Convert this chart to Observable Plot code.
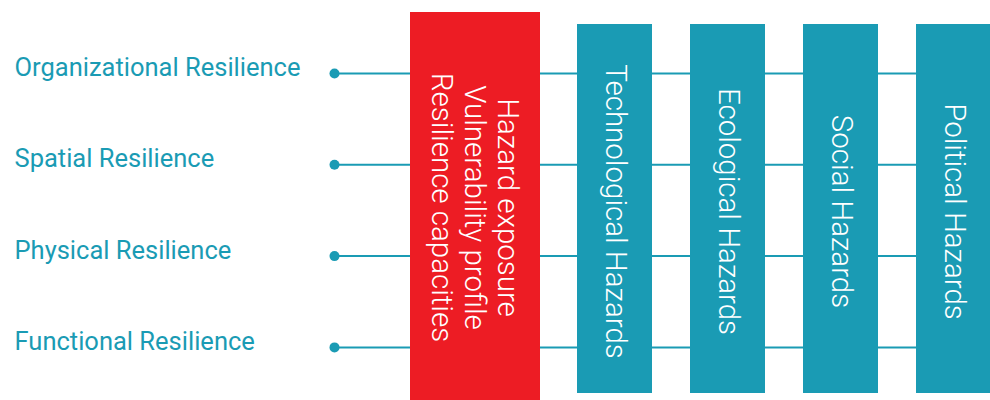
<!DOCTYPE html>
<html>
<head>
<meta charset="utf-8">
<script src="https://cdn.jsdelivr.net/npm/d3@7"></script>
<script src="https://cdn.jsdelivr.net/npm/@observablehq/plot@0.6"></script>
<style>
  html, body { margin: 0; padding: 0; background: #fff; }
  svg { display: block; }
</style>
</head>
<body>
<div id="chart"></div>
<script>
// Data
const resilienceRows = ["Organizational Resilience", "Spatial Resilience", "Physical Resilience", "Functional Resilience"];
const hazardColumns = ["Technological Hazards", "Ecological Hazards", "Social Hazards", "Political Hazards"];
const coreLines = ["Hazard exposure", "Vulnerability profile", "Resilience capacities"];

// Layout (pixel geometry of the diagram)
const W = 990, H = 400;
const rowTop = 73, rowStep = 91.3;
const dotX = 334, labelX = 14;
const core = {x1: 410, x2: 540, y1: 12, y2: 400};
const colStart = 577, colStep = 113, colWidth = 75, colY1 = 24, colY2 = 393;
const teal = "#1a9bb4", red = "#ed1c24";

const rows = resilienceRows.map((name, i) => ({name, y: rowTop + i * rowStep}));
const cols = hazardColumns.map((name, j) => ({name, x1: colStart + j * colStep, x2: Math.min(W, colStart + j * colStep + colWidth), cx: colStart + j * colStep + colWidth / 2}));
const coreData = [{text: coreLines.join("\n"), ...core}];

const chart = Plot.plot({
  width: W, height: H,
  margin: 0,
  x: {type: "linear", domain: [0, W], range: [0, W], axis: null},
  y: {type: "linear", domain: [0, H], range: [0, H], axis: null},
  style: {fontFamily: "Roboto, sans-serif"},
  marks: [
    Plot.ruleY(rows, {y: "y", x1: dotX, x2: W, stroke: teal, strokeWidth: 2}),
    Plot.dot(rows, {x: dotX, y: "y", r: 5, fill: teal, stroke: "none"}),
    Plot.text(rows, {x: labelX, y: "y", text: "name", textAnchor: "start", fill: teal, fontSize: 25.5, dy: -5.5}),
    Plot.rect(coreData, {x1: "x1", x2: "x2", y1: "y1", y2: "y2", fill: red}),
    Plot.text(coreData, {x: d => (d.x1 + d.x2) / 2, y: 207, text: "text", rotate: 90, fill: "white", fontSize: 29.5, fontWeight: 300, lineHeight: 1.12}),
    Plot.rect(cols, {x1: "x1", x2: "x2", y1: colY1, y2: colY2, fill: teal}),
    Plot.text(cols, {x: "cx", y: 211, text: "name", rotate: 90, fill: "white", fontSize: 29.5, fontWeight: 300})
  ]
});
document.getElementById("chart").append(chart);
</script>
</body>
</html>
